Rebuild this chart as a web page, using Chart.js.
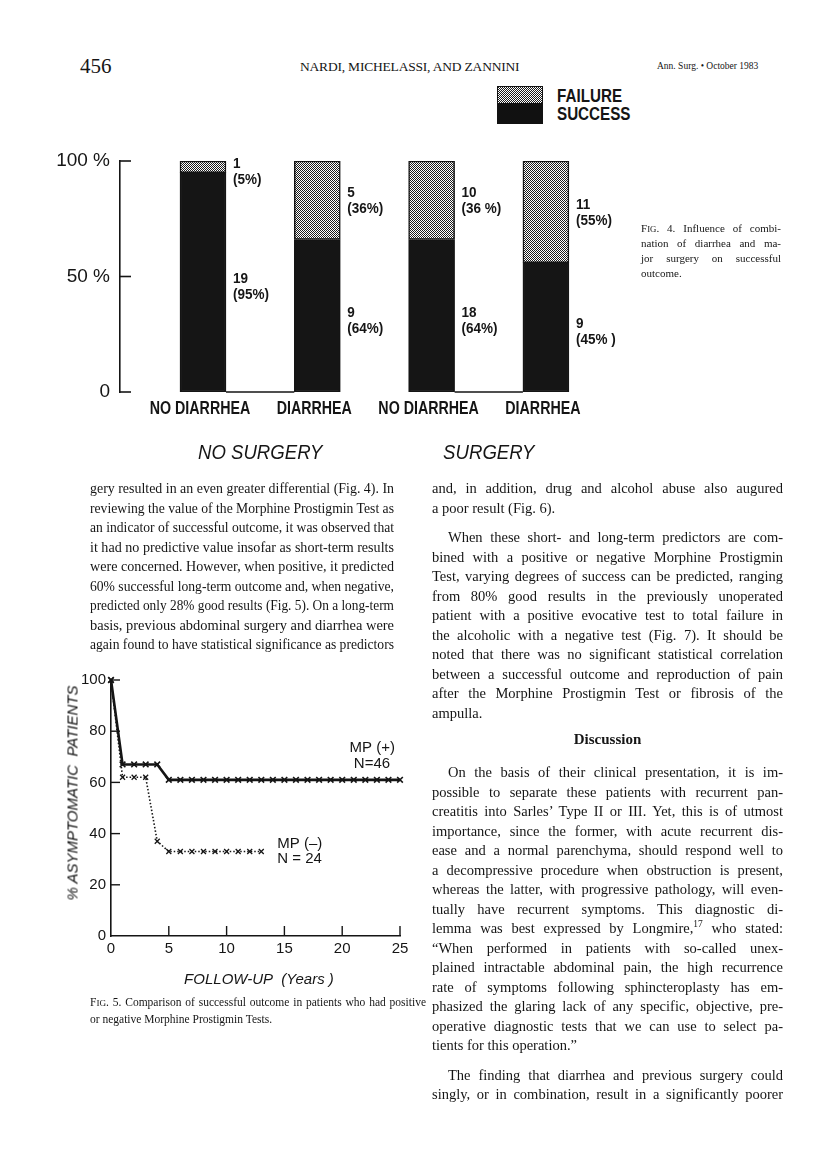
<!DOCTYPE html>
<html>
<head>
<meta charset="utf-8">
<script src="https://cdn.jsdelivr.net/npm/chart.js@4.4.0/dist/chart.umd.min.js"></script>
<style>
  body { margin: 0; background: #fff; }
  #page { position: relative; width: 816px; height: 1149px; overflow: hidden; background: #fff; color: #151515;
          font-family: "Liberation Serif", "Times New Roman", serif; }
  .abs { position: absolute; white-space: nowrap; line-height: 1; }
  .col { position: absolute; font-size: 14.5px; }
  .ln { position: absolute; left: 0; white-space: nowrap; line-height: 19.5px; height: 19.5px; }
  .sc { font-size: 0.8em; }
  sup { font-size: 0.65em; line-height: 0; }
  #legend { position: absolute; left: 497px; top: 86px; width: 46px; height: 38px; border: 1.5px solid #111; box-sizing: border-box; }
  #legend .fail { height: 16px; border-bottom: 1.5px solid #111; }
  #legend .succ { height: 19px; background: #111; }
  .legtxt { position: absolute; left: 557px; font: bold 19px "Liberation Sans", Arial, sans-serif; line-height: 1;
            transform: scaleX(0.8); transform-origin: left top; white-space: nowrap; }
  .sans { font-family: "Liberation Sans", Arial, sans-serif; }
</style>
</head>
<body>
<div id="page">
  <div class="abs" style="left:80px;top:56px;font-size:21px;">456</div>
  <div class="abs" style="left:300px;top:60px;font-size:13.5px;letter-spacing:-0.2px;">NARDI, MICHELASSI, AND ZANNINI</div>
  <div class="abs" style="left:657px;top:62px;font-size:9.5px;">Ann. Surg. &bull; October 1983</div>

  <div id="legend"><div class="fail" id="legFail"></div><div class="succ"></div></div>
  <div class="legtxt" style="top:86px;">FAILURE</div>
  <div class="legtxt" style="top:104px;">SUCCESS</div>

  <canvas id="fig4" width="620" height="350" style="position:absolute;left:40px;top:130px;width:620px;height:350px;"></canvas>
  <canvas id="fig5" width="400" height="330" style="position:absolute;left:30px;top:650px;width:400px;height:330px;"></canvas>

  <div class="abs sans" style="left:72px;top:793px;font-size:15px;font-style:italic;transform:translate(-50%,-50%) rotate(-90deg);">% ASYMPTOMATIC&nbsp; PATIENTS</div>
  <div class="abs sans" style="left:259px;top:978px;font-size:15px;font-style:italic;transform:translate(-50%,-50%);">FOLLOW-UP&nbsp; (Years )</div>

  <div class="col" id="cap4" style="left:641px;top:221px;width:140px;font-size:11px;"></div>
  <div class="col" id="cap5" style="left:90px;top:994px;width:336px;font-size:11.5px;"></div>
  <div class="col" id="leftCol" style="left:90px;top:479px;width:304px;"></div>
  <div class="col" id="rightCol" style="left:432px;top:479px;width:351px;"></div>
</div>

<script>
// ---- Fig. 4 data ----
const categories = ['NO DIARRHEA', 'DIARRHEA', 'NO DIARRHEA', 'DIARRHEA'];
const groups = ['NO SURGERY', 'NO SURGERY', 'SURGERY', 'SURGERY'];
const barSlots = [1, 2, 3, 4];
const successShare = [95, 66, 66, 56];   // bar heights as drawn (%)
const failureShare = [5, 34, 34, 44];
const successCount = ['19', '9', '18', '9'];
const failureCount = ['1', '5', '10', '11'];
const successPctText = ['(95%)', '(64%)', '(64%)', '(45% )'];
const failurePctText = ['(5%)', '(36%)', '(36 %)', '(55%)'];
const fig4Ticks = [0, 50, 100];

// ---- Fig. 5 data ----
const mpPosYears  = [0, 1, 2, 3, 4, 5, 6, 7, 8, 9, 10, 11, 12, 13, 14, 15, 16, 17, 18, 19, 20, 21, 22, 23, 24, 25];
const mpPosValues = [100, 67, 67, 67, 67, 61, 61, 61, 61, 61, 61, 61, 61, 61, 61, 61, 61, 61, 61, 61, 61, 61, 61, 61, 61, 61];
const mpNegYears  = [0, 1, 2, 3, 4, 5, 6, 7, 8, 9, 10, 11, 12, 13];
const mpNegValues = [100, 62, 62, 62, 37, 33, 33, 33, 33, 33, 33, 33, 33, 33];
const seriesNames = ['MP (+)', 'MP (\u2013)'];
const seriesN = ['N=46', 'N = 24'];
const fig5YTicks = [0, 20, 40, 60, 80, 100];
const fig5XTicks = [0, 5, 10, 15, 20, 25];

const INK = '#151515';
const SANS = '"Liberation Sans", Arial, sans-serif';
Chart.defaults.color = INK;
Chart.defaults.font.family = SANS;

// stipple used for the failure part
const stipple = document.createElement('canvas');
stipple.width = 2; stipple.height = 2;
const sg = stipple.getContext('2d');
sg.fillStyle = '#fff'; sg.fillRect(0, 0, 2, 2);
sg.fillStyle = '#1c1c1c'; sg.fillRect(0, 0, 1, 1); sg.fillRect(1, 1, 1, 1);
document.getElementById('legFail').style.background = 'url(' + stipple.toDataURL() + ')';

// condensed text: the scan's lettering is much narrower than any installed face
function narrowText(ctx, text, x, y, squeeze) {
    ctx.save();
    ctx.translate(x, y);
    ctx.scale(squeeze, 1);
    ctx.fillText(text, 0, 0);
    ctx.restore();
}

/*
    Fig. 4 - stacked bars
*/
const fig4Marks = {
    id: 'fig4Marks',
    afterDatasetsDraw(chart) {
        const { ctx, scales: { x, y } } = chart;
        const succ = chart.getDatasetMeta(0).data;
        const fail = chart.getDatasetMeta(1).data;
        ctx.save();
        ctx.strokeStyle = INK;
        ctx.lineWidth = 1.6;
        // inward ticks of the bracket axis
        fig4Ticks.forEach(v => {
            const py = y.getPixelForValue(v);
            ctx.beginPath(); ctx.moveTo(x.left, py); ctx.lineTo(x.left + 11, py); ctx.stroke();
        });
        // base line joining the two bars of a group
        const y0 = y.getPixelForValue(0);
        for (let i = 0; i < succ.length - 1; i++) {
            if (groups[i] !== groups[i + 1]) continue;
            ctx.beginPath();
            ctx.moveTo(succ[i].x + succ[i].width / 2, y0);
            ctx.lineTo(succ[i + 1].x - succ[i + 1].width / 2, y0);
            ctx.stroke();
        }
        // counts and percentages
        ctx.fillStyle = INK;
        ctx.textAlign = 'left';
        ctx.textBaseline = 'middle';
        ctx.font = 'bold 15px ' + SANS;
        succ.forEach((bar, i) => {
            const lx = bar.x + bar.width / 2 + 7;
            const fy = Math.max((fail[i].y + fail[i].base) / 2, y.top + 10);
            const sy = (bar.y + bar.base) / 2 + 4;
            narrowText(ctx, failureCount[i], lx, fy - 7, 0.9);
            narrowText(ctx, failurePctText[i], lx, fy + 9, 0.9);
            narrowText(ctx, successCount[i], lx, sy - 7, 0.9);
            narrowText(ctx, successPctText[i], lx, sy + 9, 0.9);
        });
        // category names under the bars
        ctx.textAlign = 'center';
        ctx.font = 'bold 19px ' + SANS;
        x.ticks.forEach(t => {
            const px = x.getPixelForValue(t.value);
            narrowText(ctx, categories[barSlots.indexOf(t.value)], px - 3, y0 + 17, 0.75);
        });
        // group captions
        ctx.font = 'italic 20px ' + SANS;
        [...new Set(groups)].forEach(g => {
            const idx = groups.map((v, i) => v === g ? i : -1).filter(i => i >= 0);
            const cx = (succ[idx[0]].x + succ[idx[idx.length - 1]].x) / 2;
            narrowText(ctx, g, cx, y0 + 61, 0.93);
        });
        ctx.restore();
    }
};

const ctx4 = document.getElementById('fig4').getContext('2d');
const failurePattern = ctx4.createPattern(stipple, 'repeat');
const fig4 = new Chart(ctx4, {
    type: 'bar',
    data: {
        datasets: [{
            label: 'SUCCESS',
            data: successShare.map((v, i) => ({ x: barSlots[i], y: v })),
            backgroundColor: INK,
            borderColor: INK,
            borderWidth: 1.5,
            borderSkipped: false,
            barThickness: 46
        }, {
            label: 'FAILURE',
            data: failureShare.map((v, i) => ({ x: barSlots[i], y: v })),
            backgroundColor: failurePattern,
            borderColor: INK,
            borderWidth: 1.5,
            borderSkipped: false,
            barThickness: 46
        }]
    },
    options: {
        animation: false,
        responsive: false,
        devicePixelRatio: 1,
        layout: { padding: { top: 31, right: 45.5, bottom: 50, left: 0 } },
        plugins: { legend: { display: false }, tooltip: { enabled: false } },
        scales: {
            x: {
                type: 'linear',
                offset: false,
                min: 0.274,
                max: 4.6,
                stacked: true,
                grid: { display: false, drawTicks: false, offset: false },
                border: { display: false },
                afterBuildTicks: s => { s.ticks = barSlots.map(v => ({ value: v })); },
                afterFit: s => { s.height = 38; },
                ticks: { display: false }
            },
            y: {
                min: 0,
                max: 100,
                stacked: true,
                grid: { display: false, drawTicks: false },
                border: { display: true, color: INK, width: 1.6 },
                afterBuildTicks: s => { s.ticks = fig4Ticks.map(v => ({ value: v })); },
                afterFit: s => { s.width = 80; },
                ticks: {
                    padding: 10,
                    font: { size: 19 },
                    callback: v => v === 0 ? '0' : v + ' %'
                }
            }
        }
    },
    plugins: [fig4Marks]
});

/*
    Fig. 5 - follow-up lines
*/
const fig5Marks = {
    id: 'fig5Marks',
    afterDatasetsDraw(chart) {
        const { ctx, scales: { x, y } } = chart;
        ctx.save();
        ctx.strokeStyle = INK;
        ctx.lineWidth = 1.4;
        fig5YTicks.slice(1).forEach(v => {
            const py = y.getPixelForValue(v);
            ctx.beginPath(); ctx.moveTo(x.left, py); ctx.lineTo(x.left + 9, py); ctx.stroke();
        });
        fig5XTicks.slice(1).forEach(v => {
            const px = x.getPixelForValue(v);
            ctx.beginPath(); ctx.moveTo(px, y.bottom); ctx.lineTo(px, y.bottom - 10); ctx.stroke();
        });
        ctx.fillStyle = INK;
        ctx.font = '15px ' + SANS;
        ctx.textBaseline = 'middle';
        // MP (+) label sits above the end of its line
        const pos = chart.getDatasetMeta(0).data;
        const pLast = pos[pos.length - 1];
        ctx.textAlign = 'right';
        ctx.fillText(seriesNames[0], pLast.x - 5, pLast.y - 32);
        ctx.textAlign = 'center';
        ctx.fillText(seriesN[0], pLast.x - 28, pLast.y - 16);
        // MP (-) label sits to the right of its line end
        const neg = chart.getDatasetMeta(1).data;
        const nLast = neg[neg.length - 1];
        ctx.textAlign = 'left';
        ctx.fillText(seriesNames[1], nLast.x + 16, nLast.y - 8);
        ctx.fillText(seriesN[1], nLast.x + 16, nLast.y + 7);
        ctx.restore();
    }
};

const ctx5 = document.getElementById('fig5').getContext('2d');
const fig5 = new Chart(ctx5, {
    type: 'line',
    data: {
        datasets: [{
            label: seriesNames[0],
            data: mpPosYears.map((t, i) => ({ x: t, y: mpPosValues[i] })),
            borderColor: INK,
            borderWidth: 2.6,
            pointStyle: 'crossRot',
            pointRadius: 4,
            pointBorderWidth: 1.6,
            pointBorderColor: INK,
            fill: false
        }, {
            label: seriesNames[1],
            data: mpNegYears.map((t, i) => ({ x: t, y: mpNegValues[i] })),
            borderColor: INK,
            borderWidth: 1.6,
            borderDash: [1.5, 2],
            pointStyle: 'crossRot',
            pointRadius: 3.5,
            pointBorderWidth: 1.3,
            pointBorderColor: INK,
            fill: false
        }]
    },
    options: {
        animation: false,
        responsive: false,
        devicePixelRatio: 1,
        clip: false,
        layout: { padding: { top: 30, right: 30, bottom: 0, left: 0 } },
        plugins: { legend: { display: false }, tooltip: { enabled: false } },
        scales: {
            x: {
                type: 'linear',
                min: 0,
                max: 25,
                grid: { display: false, drawTicks: false },
                border: { display: true, color: INK, width: 1.6 },
                afterBuildTicks: s => { s.ticks = fig5XTicks.map(v => ({ value: v })); },
                afterFit: s => { s.height = 44; },
                ticks: { padding: 4, maxRotation: 0, font: { size: 15 } }
            },
            y: {
                min: 0,
                max: 100,
                grid: { display: false, drawTicks: false },
                border: { display: true, color: INK, width: 1.6 },
                afterBuildTicks: s => { s.ticks = fig5YTicks.map(v => ({ value: v })); },
                afterFit: s => { s.width = 81; },
                ticks: { padding: 5, font: { size: 15 } }
            }
        }
    },
    plugins: [fig5Marks]
});

// ---- page text ----
const cap4Lines = [
    'F<span class="sc">IG</span>. 4. Influence of combi-',
    'nation of diarrhea and ma-',
    'jor surgery on successful',
    'outcome.|'
];
const cap5Lines = [
    'F<span class="sc">IG</span>. 5. Comparison of successful outcome in patients who had positive',
    'or negative Morphine Prostigmin Tests.|'
];
const leftLines = [
    'gery resulted in an even greater differential (Fig. 4). In',
    'reviewing the value of the Morphine Prostigmin Test as',
    'an indicator of successful outcome, it was observed that',
    'it had no predictive value insofar as short-term results',
    'were concerned. However, when positive, it predicted',
    '60% successful long-term outcome and, when negative,',
    'predicted only 28% good results (Fig. 5). On a long-term',
    'basis, previous abdominal surgery and diarrhea were',
    'again found to have statistical significance as predictors'
];
const rightLines = [
    'and, in addition, drug and alcohol abuse also augured',
    'a poor result (Fig. 6).|',
    '{10}>When these short- and long-term predictors are com-',
    'bined with a positive or negative Morphine Prostigmin',
    'Test, varying degrees of success can be predicted, ranging',
    'from 80% good results in the previously unoperated',
    'patient with a positive evocative test to total failure in',
    'the alcoholic with a negative test (Fig. 7). It should be',
    'noted that there was no significant statistical correlation',
    'between a successful outcome and reproduction of pain',
    'after the Morphine Prostigmin Test or fibrosis of the',
    'ampulla.|',
    '{7}#Discussion',
    '{13.5}>On the basis of their clinical presentation, it is im-',
    'possible to separate these patients with recurrent pan-',
    'creatitis into Sarles\u2019 Type II or III. Yet, this is of utmost',
    'importance, since the former, with acute recurrent dis-',
    'ease and a normal parenchyma, should respond well to',
    'a decompressive procedure when obstruction is present,',
    'whereas the latter, with progressive pathology, will even-',
    'tually have recurrent symptoms. This diagnostic di-',
    'lemma was best expressed by Longmire,<sup>17</sup> who stated:',
    '\u201cWhen performed in patients with so-called unex-',
    'plained intractable abdominal pain, the high recurrence',
    'rate of symptoms following sphincteroplasty has em-',
    'phasized the glaring lack of any specific, objective, pre-',
    'operative diagnostic tests that we can use to select pa-',
    'tients for this operation.\u201d|',
    '{10}>The finding that diarrhea and previous surgery could',
    'singly, or in combination, result in a significantly poorer'
];

function setLines(id, lines, lh) {
    const col = document.getElementById(id);
    const colW = parseFloat(col.style.width);
    let top = 0;
    lines.forEach(raw => {
        let s = raw, gap = 0, indent = 0, head = false, end = false;
        const m = s.match(/^\{([\d.]+)\}/);
        if (m) { gap = parseFloat(m[1]); s = s.slice(m[0].length); }
        if (s[0] === '>') { indent = 16; s = s.slice(1); }
        if (s[0] === '#') { head = true; s = s.slice(1); }
        if (s.endsWith('|')) { end = true; s = s.slice(0, -1); }
        top += gap;
        const ln = document.createElement('div');
        ln.className = 'ln';
        ln.style.top = top + 'px';
        ln.style.lineHeight = lh + 'px';
        ln.style.height = lh + 'px';
        const span = document.createElement('span');
        span.style.display = 'inline-block';
        span.innerHTML = s;
        ln.appendChild(span);
        col.appendChild(ln);
        if (head) {
            ln.style.width = colW + 'px';
            ln.style.textAlign = 'center';
            ln.style.fontWeight = 'bold';
            ln.style.fontSize = '15px';
        } else {
            ln.style.left = indent + 'px';
            const avail = colW - indent;
            const natural = span.getBoundingClientRect().width;
            const spaces = (span.textContent.match(/ /g) || []).length;
            if (natural > avail) {
                // too long for the measure: squeeze the glyphs a little
                span.style.transformOrigin = 'left center';
                span.style.transform = 'scaleX(' + (avail / natural) + ')';
            } else if (!end && spaces) {
                span.style.wordSpacing = ((avail - natural) / spaces) + 'px';
            }
        }
        top += lh;
    });
}
setLines('cap4', cap4Lines, 15);
setLines('cap5', cap5Lines, 17);
setLines('leftCol', leftLines, 19.5);
setLines('rightCol', rightLines, 19.5);
</script>
</body>
</html>
